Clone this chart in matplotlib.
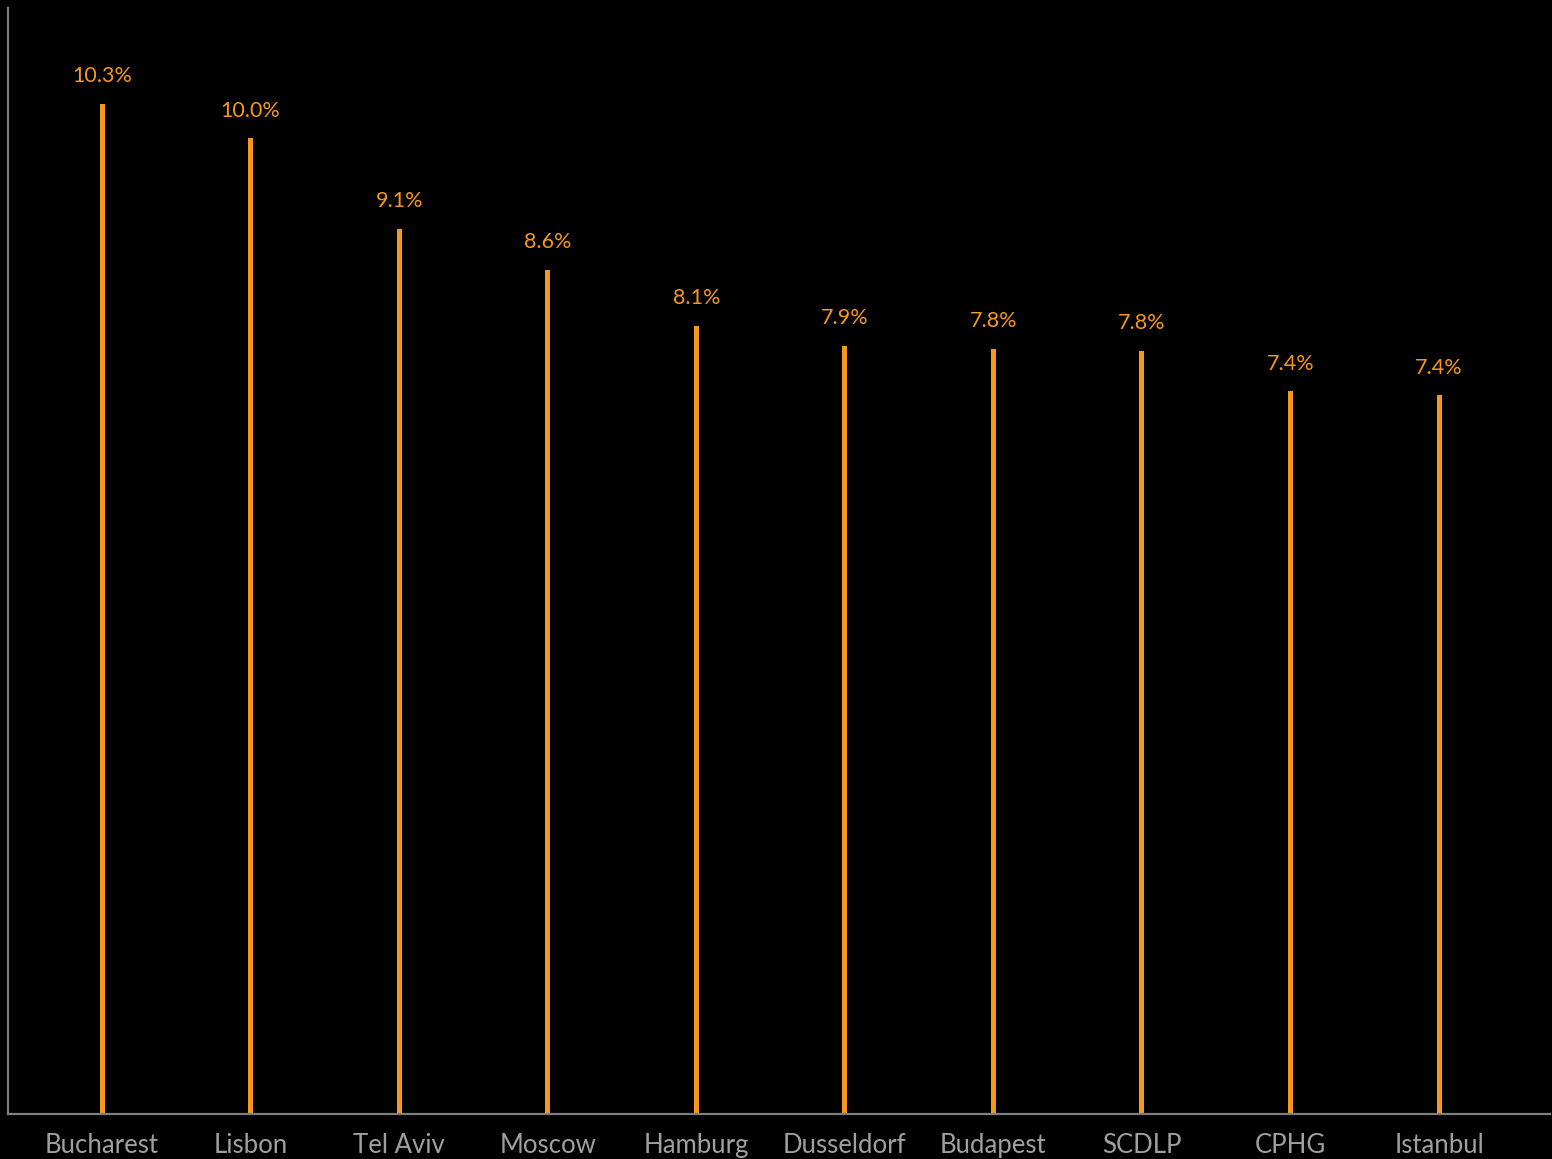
import matplotlib.pyplot as plt

cities = ["Bucharest", "Lisbon", "Tel Aviv", "Moscow", "Hamburg",
          "Dusseldorf", "Budapest", "SCDLP", "CPHG", "Istanbul"]
values = [10.3, 9.95, 9.03, 8.61, 8.04, 7.83, 7.80, 7.78, 7.37, 7.33]
labels = ["10.3%", "10.0%", "9.1%", "8.6%", "8.1%",
          "7.9%", "7.8%", "7.8%", "7.4%", "7.4%"]

orange = "#f7981d"
grey = "#a0a0a0"

fig = plt.figure(figsize=(15.52, 11.59), dpi=100, facecolor="black")
ax = fig.add_axes([8 / 1552, 45 / 1159, 1542 / 1552, 1106 / 1159])
ax.set_facecolor("black")

x = range(len(cities))
ax.bar(x, values, width=0.034, color=orange)

for xi, v, lab in zip(x, values, labels):
    ax.annotate(lab, (xi, v), xytext=(0, 20), textcoords="offset points",
                ha="center", va="center", color=orange, fontsize=15.5,
                family="Lato")

ax.set_xlim(-0.633, 9.747)
ax.set_ylim(0, 11.28)
ax.set_xticks(list(x))
ax.set_xticklabels(cities, color=grey, fontsize=18.5, family="Lato")
ax.tick_params(axis="x", length=0, pad=14)
ax.set_yticks([])

for s in ["top", "right"]:
    ax.spines[s].set_visible(False)
for s in ["left", "bottom"]:
    ax.spines[s].set_color("#7f7f7f")
    ax.spines[s].set_linewidth(1.6)

fig.savefig("out.png", dpi=100, facecolor="black")
